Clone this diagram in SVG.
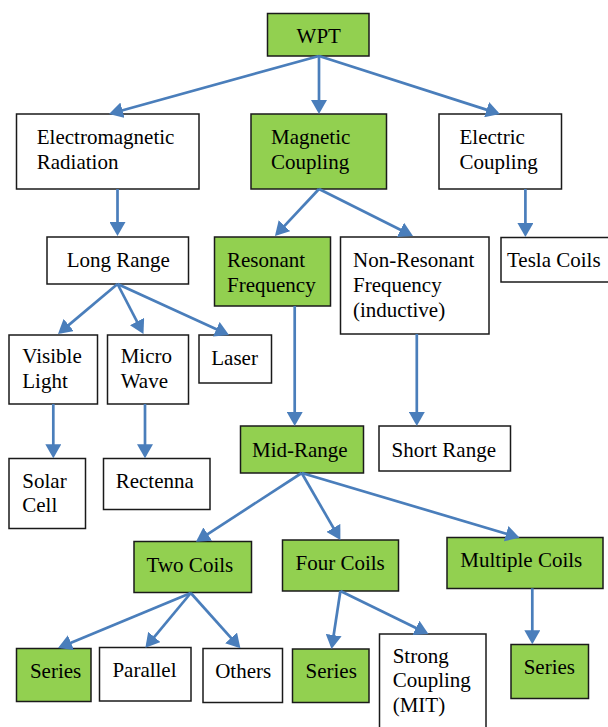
<svg xmlns="http://www.w3.org/2000/svg" width="608" height="727" viewBox="0 0 608 727">
<style>
rect{stroke:#1a1a1a;stroke-width:1.5}
.g{fill:#92D050}
.w{fill:#ffffff}
text{font-family:"Liberation Serif","Times New Roman",serif;font-size:21px;fill:#000}
.c line{stroke:#4A7EBB;stroke-width:2.7;marker-end:url(#ah)}
</style>
<defs>
<marker id="ah" markerUnits="userSpaceOnUse" markerWidth="14" markerHeight="16" viewBox="0 0 14 16" refX="11" refY="8" orient="auto">
<path d="M0,0 L14,8 L0,16 z" fill="#4A7EBB"/>
</marker>
</defs>
<rect x="0" y="0" width="608" height="727" fill="#fff" style="stroke:none"/>
<g id="n-wpt"><rect class="g" x="267.5" y="13.5" width="101.5" height="42.5"/><text x="296.6" y="42.7">WPT</text></g>
<g id="n-em"><rect class="w" x="16.5" y="114" width="182.5" height="75"/><text x="36.8" y="144">Electromagnetic</text><text x="36.8" y="169">Radiation</text></g>
<g id="n-mc"><rect class="g" x="251" y="114" width="135.5" height="75"/><text x="271" y="144">Magnetic</text><text x="271" y="169">Coupling</text></g>
<g id="n-ec"><rect class="w" x="439" y="114" width="122.5" height="75"/><text x="459.5" y="144">Electric</text><text x="459.5" y="169">Coupling</text></g>
<g id="n-lr"><rect class="w" x="47" y="237" width="141.5" height="47"/><text x="66.7" y="267">Long Range</text></g>
<g id="n-rf"><rect class="g" x="214.5" y="237" width="116" height="69"/><text x="227" y="267">Resonant</text><text x="227" y="292">Frequency</text></g>
<g id="n-nr"><rect class="w" x="340.5" y="237" width="148.5" height="97"/><text x="353" y="267">Non-Resonant</text><text x="353" y="292">Frequency</text><text x="353" y="317">(inductive)</text></g>
<g id="n-tesla"><rect class="w" x="501" y="237.5" width="110" height="44.5"/><text x="507" y="267">Tesla Coils</text></g>
<g id="n-visible"><rect class="w" x="9" y="335" width="88.5" height="69"/><text x="22.3" y="363.3">Visible</text><text x="22.3" y="388.3">Light</text></g>
<g id="n-micro"><rect class="w" x="107.5" y="335" width="81" height="69"/><text x="120.7" y="363.3">Micro</text><text x="120.7" y="388.3">Wave</text></g>
<g id="n-laser"><rect class="w" x="199" y="335" width="72.5" height="48"/><text x="211.3" y="365">Laser</text></g>
<g id="n-solar"><rect class="w" x="9" y="458.5" width="76.5" height="70"/><text x="22.3" y="487.7">Solar</text><text x="22.3" y="512.3">Cell</text></g>
<g id="n-rect"><rect class="w" x="103.5" y="458.5" width="106.5" height="51"/><text x="115.7" y="488.3">Rectenna</text></g>
<g id="n-mid"><rect class="g" x="240.5" y="426" width="123" height="47"/><text x="252" y="456.7">Mid-Range</text></g>
<g id="n-short"><rect class="w" x="379" y="426" width="131.5" height="45"/><text x="391.6" y="457">Short Range</text></g>
<g id="n-two"><rect class="g" x="134" y="541.5" width="117.5" height="51"/><text x="146.6" y="571.7">Two Coils</text></g>
<g id="n-four"><rect class="g" x="282.5" y="540" width="116" height="51"/><text x="295.5" y="570">Four Coils</text></g>
<g id="n-multi"><rect class="g" x="447" y="537.5" width="156" height="51"/><text x="460.3" y="567.3">Multiple Coils</text></g>
<g id="n-series1"><rect class="g" x="16.5" y="648.5" width="74.5" height="53"/><text x="29.9" y="678">Series</text></g>
<g id="n-parallel"><rect class="w" x="99.5" y="647.5" width="91.5" height="53.5"/><text x="112.4" y="677">Parallel</text></g>
<g id="n-others"><rect class="w" x="203" y="648.5" width="79.5" height="54"/><text x="215.2" y="678">Others</text></g>
<g id="n-series2"><rect class="g" x="292.5" y="649" width="76.5" height="53.5"/><text x="305.5" y="678">Series</text></g>
<g id="n-strong"><rect class="w" x="379.5" y="634" width="106.5" height="100"/><text x="392.7" y="663.3">Strong</text><text x="392.7" y="686.7">Coupling</text><text x="392.7" y="711.7">(MIT)</text></g>
<g id="n-series3"><rect class="g" x="511" y="644.5" width="77.5" height="54"/><text x="523.7" y="674.3">Series</text></g>
<g id="connectors" class="c">
<line x1="319" y1="56" x2="111.9" y2="113.2"/>
<line x1="319" y1="56" x2="319" y2="111"/>
<line x1="319" y1="56" x2="497.1" y2="113.1"/>
<line x1="117.5" y1="189" x2="117.5" y2="233"/>
<line x1="319" y1="189" x2="277" y2="233.8"/>
<line x1="319" y1="189" x2="410.3" y2="234.7"/>
<line x1="525.4" y1="189" x2="525.4" y2="234"/>
<line x1="117.5" y1="284" x2="60.3" y2="332.1"/>
<line x1="117.5" y1="284" x2="142.1" y2="331.3"/>
<line x1="117.5" y1="284" x2="226.3" y2="333.8"/>
<line x1="53.3" y1="404" x2="53.3" y2="455.3"/>
<line x1="145" y1="404" x2="145" y2="455.3"/>
<line x1="294.7" y1="306" x2="294.7" y2="423"/>
<line x1="416.8" y1="334" x2="416.8" y2="423"/>
<line x1="301.7" y1="473" x2="198.5" y2="540.1"/>
<line x1="301.7" y1="473" x2="338.9" y2="537.4"/>
<line x1="301.7" y1="473" x2="516.7" y2="536.8"/>
<line x1="190.8" y1="593" x2="60.8" y2="646.9"/>
<line x1="190.8" y1="593" x2="147.3" y2="645.4"/>
<line x1="190.8" y1="593" x2="238.4" y2="646.1"/>
<line x1="340.4" y1="591" x2="332" y2="646"/>
<line x1="340.4" y1="591" x2="425.8" y2="632.7"/>
<line x1="532.3" y1="588.3" x2="532.3" y2="641.3"/>
</g>
</svg>
